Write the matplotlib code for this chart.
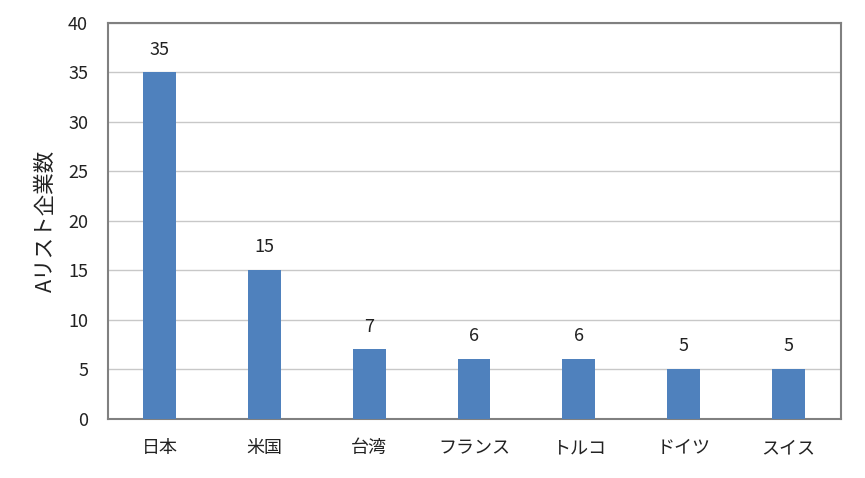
import matplotlib
matplotlib.use("Agg")
import matplotlib.pyplot as plt

plt.rcParams['font.family'] = ['Noto Sans CJK JP', 'DejaVu Sans']

countries = ['日本', '米国', '台湾', 'フランス', 'トルコ', 'ドイツ', 'スイス']
counts = [35, 15, 7, 6, 6, 5, 5]

fig = plt.figure(figsize=(8.65, 4.78), dpi=100)
ax = fig.add_axes([107.5 / 865, 59.5 / 478, 733 / 865, 395.5 / 478])

x = range(len(countries))
bars = ax.bar(x, counts, width=0.315, color='#4F81BD', zorder=3)
for b, v in zip(bars, counts):
    ax.text(b.get_x() + b.get_width() / 2, v + 2.3, str(v), ha='center', va='center',
            fontsize=13, color='#222222')

ax.set_xlim(-0.5, len(countries) - 0.5)
ax.set_ylim(0, 40)
ax.set_yticks(range(0, 41, 5))
ax.set_xticks(list(x))
ax.set_xticklabels(countries)
ax.grid(axis='y', color='#c8c8c8', linewidth=1, zorder=0)
ax.tick_params(length=0, labelsize=13, colors='#222222')
ax.tick_params(axis='x', pad=15)
ax.tick_params(axis='y', pad=14)
for s in ax.spines.values():
    s.set_color('#808080')
    s.set_linewidth(1.5)
ax.set_ylabel('Aリスト企業数', fontsize=15.5, color='#222222', labelpad=8)

fig.savefig('out.png', dpi=100)
